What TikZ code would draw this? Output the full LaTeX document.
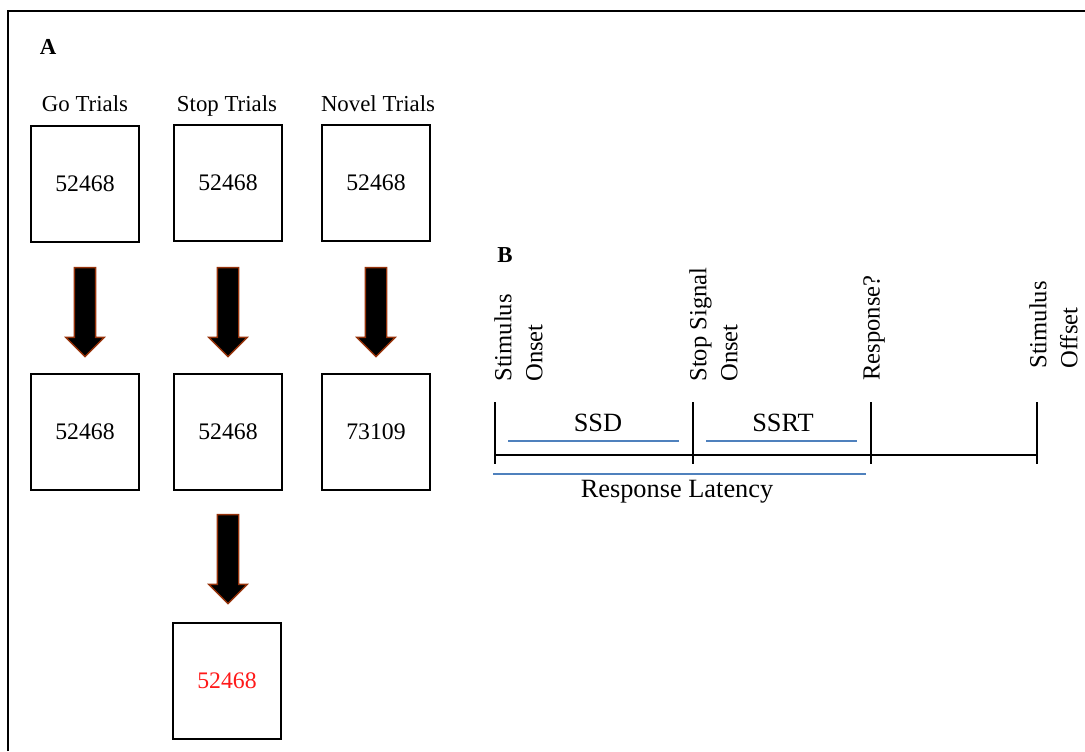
\documentclass[tikz,border=0pt]{standalone}
\usepackage{fontspec}
\setmainfont{Liberation Serif}
\usepackage{xcolor}
\usetikzlibrary{shapes.arrows}
\definecolor{arrowbrown}{RGB}{150, 50, 10}
\definecolor{latencyblue}{RGB}{79, 129, 189}
\definecolor{errorred}{RGB}{255, 25, 25}

\begin{document}
\begin{tikzpicture}[x=0.02cm, y=-0.02cm,
    trialbox/.style={draw, line width=1.1pt, minimum width=2.16cm, minimum height=2.32cm,
        inner sep=0pt, font=\fontsize{13.5}{16}\selectfont},
    triallabel/.style={anchor=base, font=\fontsize{13}{16}\selectfont},
    downarrow/.style={single arrow, draw=arrowbrown, fill=black, line width=0.8pt,
        rotate=-90, anchor=tail, minimum height=1.78cm, minimum width=0.74cm,
        single arrow head extend=0.17cm, inner xsep=0pt, inner ysep=0.2cm},
    eventlabel/.style={rotate=90, anchor=north west, align=left, inner sep=0pt,
        font=\fontsize{14}{17.6}\selectfont},
    spanlabel/.style={inner sep=0pt, font=\fontsize{15}{18}\selectfont},
    tick/.style={line width=0.85pt},
    span/.style={latencyblue, line width=0.85pt}]
    \useasboundingbox (0,0) rectangle (1085,751);

    % frame
    \draw[line width=1.1pt] (8,751) -- (8,11) -- (1085,11);

    % Panel A
    \node[font=\fontsize{13}{15}\selectfont\bfseries] (panelA) at (48,47) {A};
    \node[trialbox] (go1) at (85,184) {52468};
    \node[trialbox] (stop1) at (228,183) {52468};
    \node[trialbox] (novel1) at (376,183) {52468};
    \node[triallabel] (golabel) at (85,111) {Go Trials};
    \node[triallabel] (stoplabel) at (227,111) {Stop Trials};
    \node[triallabel] (novellabel) at (378,111) {Novel Trials};

    \node[trialbox] (go2) at (85,432) {52468};
    \node[trialbox] (stop2) at (228,432) {52468};
    \node[trialbox] (novel2) at (376,432) {73109};
    \node[trialbox, text=errorred] (stop3) at (227,681) {52468};

    \node[downarrow] (goarrow) at ([yshift=-0.48cm]go1.south) {};
    \node[downarrow] (stoparrow) at ([yshift=-0.5cm]stop1.south) {};
    \node[downarrow] (novelarrow) at ([yshift=-0.5cm]novel1.south) {};
    \node[downarrow] (stoparrow2) at ([yshift=-0.46cm]stop2.south) {};

    % Panel B
    \node[font=\fontsize{13}{15}\selectfont\bfseries] (panelB) at (505,255) {B};
    \coordinate (t1) at (495,455);
    \coordinate (t2) at (693,455);
    \coordinate (t3) at (871,455);
    \coordinate (t4) at (1037,455);
    \draw[tick] (t1) -- (t4);
    \foreach \t in {t1,t2,t3,t4}
        \draw[tick] ([yshift=1.06cm]\t) -- ([yshift=-0.18cm]\t);

    \node[eventlabel] (stimon) at (494,382) {Stimulus\\Onset};
    \node[eventlabel] (stopon) at (689,382) {Stop Signal\\Onset};
    \node[eventlabel] (resp) at (863,381) {Response?};
    \node[eventlabel] (stimoff) at (1029,369) {Stimulus\\Offset};

    \draw[span] (508,441) -- (679,441);
    \draw[span] (706,441) -- (857,441);
    \draw[span] (493,474) -- (866,474);
    \node[spanlabel] (ssd) at (598,423) {SSD};
    \node[spanlabel] (ssrt) at (783,423) {SSRT};
    \node[spanlabel] (latency) at (677,492) {Response Latency};
\end{tikzpicture}
\end{document}
